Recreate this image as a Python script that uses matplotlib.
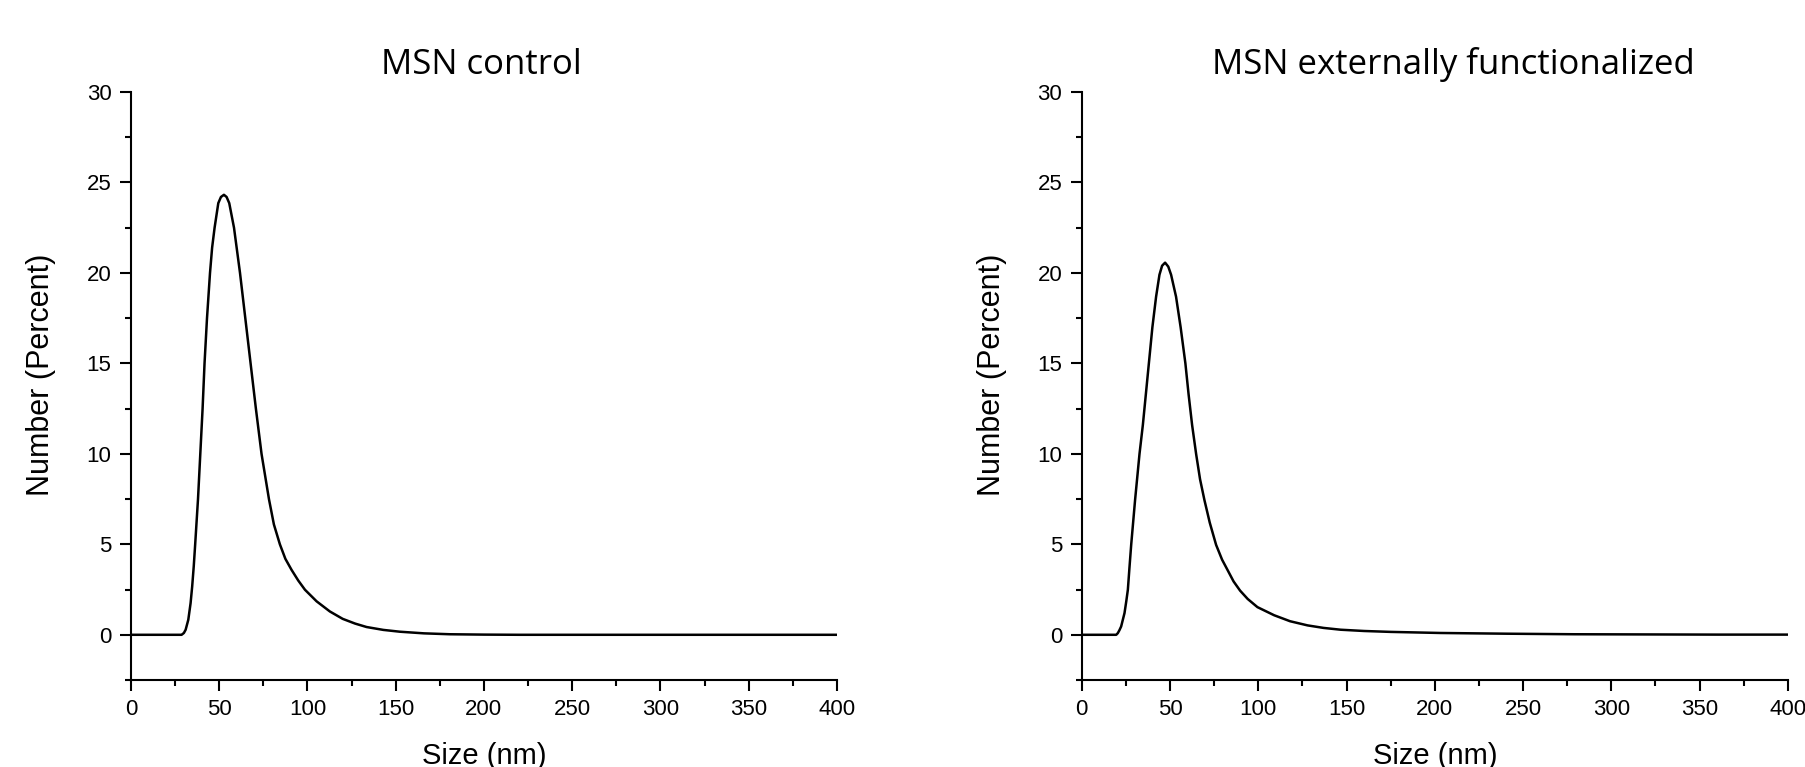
import matplotlib
matplotlib.use("Agg")
import matplotlib.pyplot as plt
from matplotlib.ticker import MultipleLocator

# size distribution by number
control_size = [0, 20, 28.7, 30.0, 31.0, 32.5, 33.8, 34.7, 35.6, 36.4, 37.2, 38.0,
                39.3, 40.6, 41.7, 43.1, 44.8, 46.0, 47.4, 49.5, 51.0, 52.7, 54.2,
                55.7, 58.4, 61.8, 64.8, 67.8, 70.8, 74.0, 78.2, 81.0, 84.4, 87.5,
                91.0, 94.8, 98.6, 105.2, 112.7, 120, 127, 133.5, 143, 152.4, 166,
                180.7, 200, 220, 300, 400]
control_pct = [0, 0, 0, 0.10, 0.28, 0.83, 1.75, 2.67, 3.8, 5.0, 6.25, 7.5,
               10.0, 12.5, 15.0, 17.5, 20.0, 21.4, 22.5, 23.86, 24.2, 24.32, 24.2,
               23.86, 22.5, 20.0, 17.5, 15.0, 12.5, 10.0, 7.5, 6.1, 5.0, 4.2,
               3.59, 3.0, 2.49, 1.85, 1.29, 0.88, 0.62, 0.43, 0.27, 0.17, 0.08,
               0.03, 0.01, 0, 0, 0]

ext_size = [0, 10, 19.5, 20.4, 21.3, 22.3, 24.2, 25.2, 26.1, 27.0, 28.0, 30.2,
            32.7, 34.6, 36.3, 38.0, 40.0, 42.1, 44.0, 45.5, 47.2, 49.0, 50.6,
            53.4, 56.0, 58.7, 60.5, 62.5, 64.8, 67.0, 69.5, 72.5, 76.1, 79.5,
            82.7, 86.0, 89.7, 94.0, 99.5, 109.0, 118, 127.9, 137, 146.7, 160,
            175.1, 203.4, 241, 279, 320, 360, 400]
ext_pct = [0, 0, 0, 0.09, 0.25, 0.46, 1.2, 1.85, 2.49, 3.7, 4.99, 7.46,
           10.0, 11.6, 13.3, 15.0, 17.0, 18.69, 19.9, 20.4, 20.57, 20.35, 19.9,
           18.69, 17.0, 15.0, 13.3, 11.6, 9.98, 8.6, 7.44, 6.2, 4.97, 4.15,
           3.56, 2.95, 2.44, 1.98, 1.53, 1.08, 0.75, 0.52, 0.38, 0.28, 0.21,
           0.16, 0.10, 0.06, 0.03, 0.02, 0.01, 0.01]

titles = ["MSN control", "MSN externally functionalized"]
title_x = [0.2663, 0.805]

plt.rcParams['font.family'] = ['Liberation Sans', 'DejaVu Sans']

fig = plt.figure(figsize=(18.06, 7.67), dpi=100)
ax1 = fig.add_axes([0.0725, 0.1134, 0.3909, 0.7666])
ax2 = fig.add_axes([0.5990, 0.1134, 0.3909, 0.7666])

for ax, xs, ys, t, tx in [(ax1, control_size, control_pct, titles[0], title_x[0]),
                          (ax2, ext_size, ext_pct, titles[1], title_x[1])]:
    ax.plot(xs, ys, color="black", lw=1.8, solid_joinstyle="round")
    ax.set_xlim(0, 400)
    ax.set_ylim(-2.5, 30)
    ax.xaxis.set_major_locator(MultipleLocator(50))
    ax.xaxis.set_minor_locator(MultipleLocator(25))
    ax.yaxis.set_major_locator(MultipleLocator(5))
    ax.yaxis.set_minor_locator(MultipleLocator(2.5))
    ax.spines["top"].set_visible(False)
    ax.spines["right"].set_visible(False)
    for s in ("left", "bottom"):
        ax.spines[s].set_linewidth(1.5)
    ax.tick_params(which="major", direction="out", length=8, width=1.5,
                   labelsize=16, pad=6)
    ax.tick_params(which="minor", direction="out", length=4, width=1.5)
    ax.set_xlabel("Size (nm)", fontsize=21, va="top")
    ax.set_ylabel("Number (Percent)", fontsize=22)
    ax.xaxis.set_label_coords(0.5, -0.105)
    ax.yaxis.set_label_coords(-0.106, 0.519)
    fig.text(tx, 0.9035, t, ha="center", va="baseline", fontsize=25,
             family=["Open Sans", "DejaVu Sans"])

fig.savefig("out.png", dpi=100)
